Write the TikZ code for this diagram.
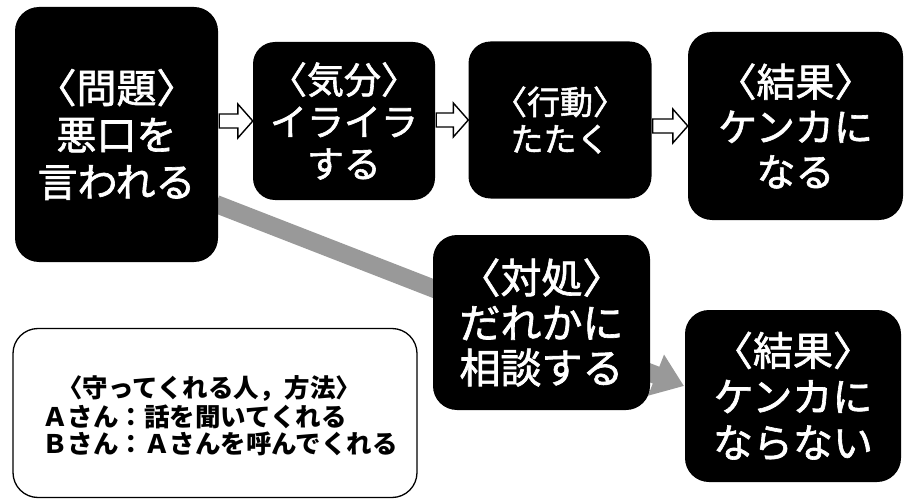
\documentclass[tikz,border=0pt]{standalone}
\usepackage{fontspec}
\newfontfamily\jp{Noto Sans CJK JP}
\newfontfamily\jpm{Noto Sans CJK JP}[FakeBold=1.6]
\usetikzlibrary{arrows.meta,calc}
\tikzset{
  blk/.style={fill=black, rounded corners=24pt, text=white, align=center, inner sep=0pt},
  hollow/.style={draw=black, fill=white, line width=1.4pt, line join=miter},
  grayband/.style={draw=black!40, line width=18pt, -{Triangle[length=30pt,width=42pt]}},
  notebox/.style={draw=black, fill=white, rounded corners=25pt, line width=1.3pt, inner sep=0pt},
  notetxt/.style={font=\jp\bfseries\fontsize{25.5}{28}\selectfont, inner sep=0pt, text=black},
}
\newcommand{\hollowarr}[2]{%
  \path let \p1=(#1.east |- #2.west), \p2=(#2.west) in
    [hollow] (\x1+1pt,\y2+7pt) -- (\x2-15pt,\y2+7pt) -- (\x2-15pt,\y2+17pt) -- (\x2,\y2)
    -- (\x2-15pt,\y2-17pt) -- (\x2-15pt,\y2-7pt) -- (\x1+1pt,\y2-7pt) -- cycle;}
\begin{document}
\begin{tikzpicture}[x=1pt,y=-1pt]
\useasboundingbox[fill=white] (0,0) rectangle (908,500);
% gray arrow (drawn first, runs behind the coping box)
\coordinate (gs) at (216,204);
\coordinate (ge) at (684,386);
\draw[grayband] (gs) -- (ge);
% black boxes
\node[blk, minimum width=203pt, minimum height=255pt, font=\jpm\fontsize{40}{47}\selectfont] (p) at (116.5,134.5) {〈問題〉\\悪口を\\言われる};
\node[blk, minimum width=182pt, minimum height=158pt, rounded corners=22pt, font=\jpm\fontsize{37}{42}\selectfont] (m) at (344,121) {〈気分〉\\イライラ\\する};
\node[blk, minimum width=183pt, minimum height=157pt, rounded corners=22pt, font=\jpm\fontsize{33}{37}\selectfont] (t) at (560,120) {〈行動〉\\たたく};
\node[blk, minimum width=215pt, minimum height=188pt, font=\jpm\fontsize{39}{45}\selectfont] (r1) at (795.5,126) {〈結果〉\\ケンカに\\なる};
\node[blk, minimum width=217pt, minimum height=175pt, font=\jpm\fontsize{41}{45}\selectfont] (c) at (541.5,322.5) {〈対処〉\\だれかに\\相談する};
\node[blk, minimum width=216pt, minimum height=172pt, font=\jpm\fontsize{40}{46}\selectfont] (r2) at (793,396) {〈結果〉\\ケンカに\\ならない};
% hollow arrows
\hollowarr{p}{m}
\hollowarr{m}{t}
\hollowarr{t}{r1}
% note box
\node[notebox, minimum width=404pt, minimum height=169pt] (note) at (215,413) {};
\node[notetxt] (n1) at (209,388) {〈守ってくれる人，方法〉};
\node[notetxt, anchor=west] (n2) at (42,417) {Ａさん：話を聞いてくれる};
\node[notetxt, anchor=west] (n3) at (42,444) {Ｂさん：Ａさんを呼んでくれる};
\end{tikzpicture}
\end{document}
